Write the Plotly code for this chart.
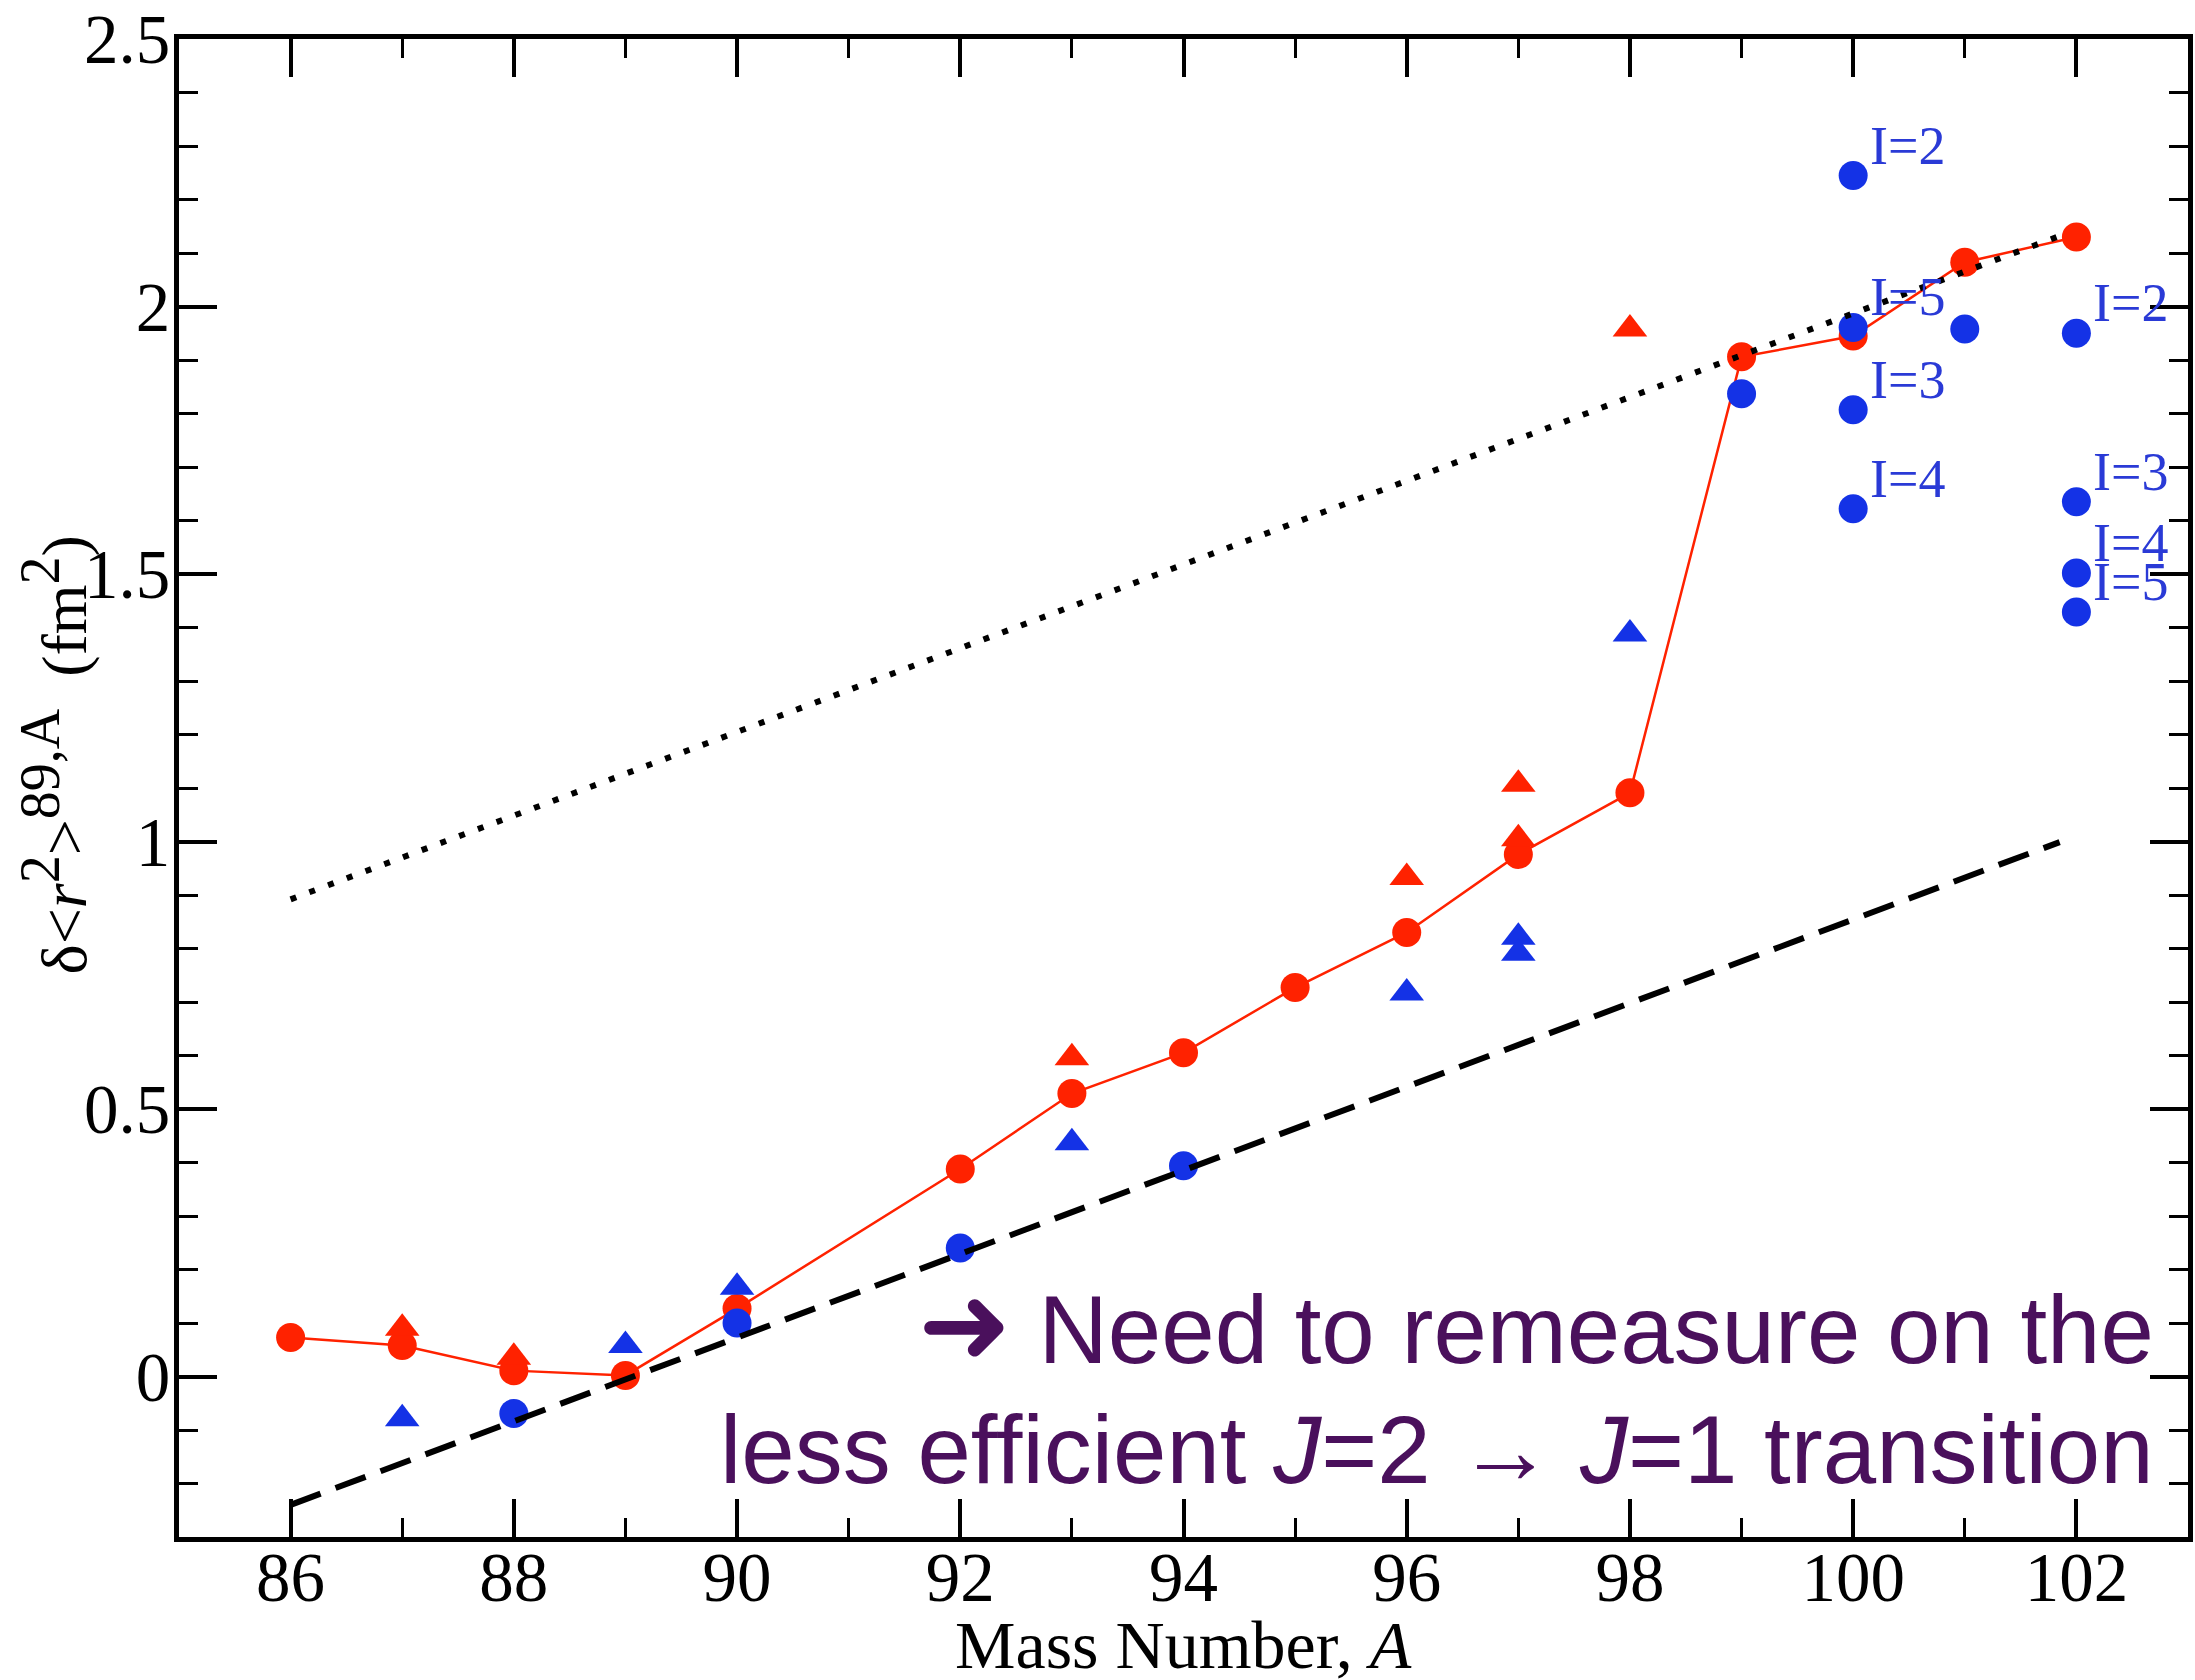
import plotly.graph_objects as go

# ---------------- data ----------------
red_circle_A = [86, 87, 88, 89, 90, 92, 93, 94, 95, 96, 97, 98, 99, 100, 101, 102]
red_circle_dr2 = [0.073, 0.058, 0.011, 0.002, 0.127, 0.388, 0.529, 0.605, 0.727,
                  0.830, 0.976, 1.091, 1.906, 1.945, 2.083, 2.130]

red_tri_A = [87, 88, 93, 96, 97, 97, 98]
red_tri_dr2 = [0.090, 0.036, 0.596, 0.933, 1.107, 1.005, 1.958]

blue_tri_A = [87, 89, 90, 93, 96, 97, 97, 98]
blue_tri_dr2 = [-0.079, 0.058, 0.167, 0.437, 0.717, 0.821, 0.791, 1.388]

blue_circle_A = [88, 90, 92, 94, 99, 101]
blue_circle_dr2 = [-0.069, 0.100, 0.240, 0.394, 1.837, 1.958]

iso_A = [100, 100, 100, 100, 102, 102, 102, 102]
iso_dr2 = [2.245, 1.961, 1.807, 1.622, 1.950, 1.635, 1.502, 1.429]
iso_labels = ["I=2", "I=5", "I=3", "I=4", "I=2", "I=3", "I=4", "I=5"]

dotted_A = [86, 101.85]
dotted_dr2 = [0.892, 2.132]

dashed_A = [86, 101.85]
dashed_dr2 = [-0.240, 0.999]

x_ticks = [86, 88, 90, 92, 94, 96, 98, 100, 102]
y_ticks = [0, 0.5, 1, 1.5, 2, 2.5]
y_ticklabels = ["0", "0.5", "1", "1.5", "2", "2.5"]

RED = "#ff2200"
BLUE = "#1432e6"
LBLUE = "#2a3ad6"
PURPLE = "#4a105c"
SERIF = "Liberation Serif, Times New Roman, serif"
SANS = "Liberation Sans, Arial, DejaVu Sans, sans-serif"

fig = go.Figure()

fig.add_trace(go.Scatter(x=red_circle_A, y=red_circle_dr2, mode="lines+markers",
                         line=dict(color=RED, width=2.5),
                         marker=dict(symbol="circle", size=29, color=RED),
                         showlegend=False, cliponaxis=False))
fig.add_trace(go.Scatter(x=red_tri_A, y=red_tri_dr2, mode="markers",
                         marker=dict(symbol="triangle-up", size=30, color=RED),
                         showlegend=False))
fig.add_trace(go.Scatter(x=blue_tri_A, y=blue_tri_dr2, mode="markers",
                         marker=dict(symbol="triangle-up", size=30, color=BLUE),
                         showlegend=False))
fig.add_trace(go.Scatter(x=blue_circle_A, y=blue_circle_dr2, mode="markers",
                         marker=dict(symbol="circle", size=29, color=BLUE),
                         showlegend=False))
fig.add_trace(go.Scatter(x=iso_A, y=iso_dr2, mode="markers",
                         marker=dict(symbol="circle", size=29, color=BLUE),
                         showlegend=False, cliponaxis=False))
fig.add_trace(go.Scatter(x=dotted_A, y=dotted_dr2, mode="lines",
                         line=dict(color="black", width=6, dash="6px,14px"),
                         showlegend=False))
fig.add_trace(go.Scatter(x=dashed_A, y=dashed_dr2, mode="lines",
                         line=dict(color="black", width=6, dash="32px,16px"),
                         showlegend=False))

annotations = []
for a, v, t in zip(iso_A, iso_dr2, iso_labels):
    annotations.append(dict(x=a, y=v, xref="x", yref="y", text=t, showarrow=False,
                            xanchor="left", yanchor="middle", xshift=15, yshift=30,
                            font=dict(family=SERIF, size=54, color=LBLUE)))

# axis titles
annotations.append(dict(x=0.5, y=-0.072, xref="paper", yref="paper",
                        text="Mass Number, <i>A</i>", showarrow=False,
                        xanchor="center", yanchor="middle",
                        font=dict(family=SERIF, size=68, color="black")))
annotations.append(dict(x=-0.062, y=0.522, xref="paper", yref="paper",
                        text=("δ&lt;<i>r</i><sup><span style='font-size:56px'>2</span></sup>&gt;"
                              "<sup><span style='font-size:56px'>89,A</span></sup>  "
                              "(fm<sup><span style='font-size:56px'>2</span></sup>)"),
                        showarrow=False, textangle=-90,
                        xanchor="center", yanchor="middle",
                        font=dict(family=SERIF, size=64, color="black")))

# overlay text
annotations.append(dict(x=0.984, y=0.097, xref="paper", yref="y",
                        text="<span style='font-size:112px'>➜</span> Need to remeasure on the",
                        showarrow=False, xanchor="right", yanchor="middle",
                        font=dict(family=SANS, size=96, color=PURPLE)))
annotations.append(dict(x=0.984, y=-0.136, xref="paper", yref="y",
                        text="less efficient <i>J</i>=2 → <i>J</i>=1 transition", showarrow=False,
                        xanchor="right", yanchor="middle",
                        font=dict(family=SANS, size=96, color=PURPLE)))

axis_common = dict(showline=True, linecolor="black", linewidth=5, mirror="allticks",
                   ticks="inside", ticklen=38, tickwidth=3.5, tickcolor="black",
                   showgrid=False, zeroline=False, ticklabeloverflow="allow",
                   tickfont=dict(family=SERIF, size=69, color="black"))

fig.update_xaxes(range=[85, 103], tickvals=x_ticks, ticktext=[str(v) for v in x_ticks],
                 ticklabelstandoff=-24,
                 minor=dict(dtick=1, tick0=85, ticks="inside", ticklen=19, tickwidth=3,
                            tickcolor="black", showgrid=False),
                 **axis_common)
fig.update_yaxes(range=[-0.3, 2.5002], tickvals=y_ticks, ticktext=y_ticklabels,
                 ticklabelstandoff=-10,
                 minor=dict(dtick=0.1, tick0=0, ticks="inside", ticklen=19, tickwidth=3,
                            tickcolor="black", showgrid=False),
                 **axis_common)

fig.update_layout(width=2195, height=1680,
                  margin=dict(l=179, r=2, t=35, b=143),
                  paper_bgcolor="white", plot_bgcolor="white",
                  annotations=annotations, showlegend=False)

fig.write_html("out.html")
